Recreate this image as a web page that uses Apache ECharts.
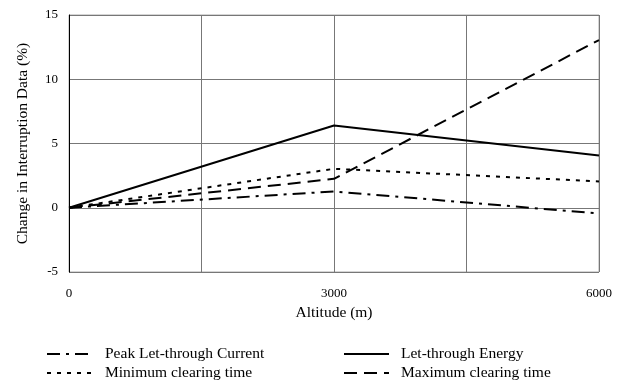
<!DOCTYPE html>
<html>
<head>
<meta charset="utf-8">
<script src="https://cdn.jsdelivr.net/npm/echarts@6/dist/echarts.min.js"></script>
<style>
  html, body { margin: 0; padding: 0; background: #fff; }
  #chart { width: 623px; height: 386px; }
</style>
</head>
<body>
<div id="chart"></div>
<script>
// 海拔 (m)
const altitudes = [0, 3000, 6000];
// 各项中断数据变化 (%)
const peakCurrent = [0, 1.27, -0.45];
const energy = [0, 6.4, 4.07];
const minClearing = [0, 3.03, 2.05];
const maxClearing = [0, 2.25, 13.05];

const FONT = '"Liberation Serif", "DejaVu Serif", serif';

const pairs = vals => altitudes.map((a, i) => [a, vals[i]]);

const lineSeries = (name, vals, dash) => ({
    name: name,
    type: 'line',
    data: pairs(vals),
    symbol: 'none',
    lineStyle: { color: '#000', width: 2, type: dash },
    itemStyle: { color: '#000' }
});

// 图例公共样式 (隐藏默认的圆点)
const legendBase = {
    orient: 'vertical',
    top: 346,
    padding: 0,
    itemWidth: 44,
    itemHeight: 14,
    itemGap: 3,
    itemStyle: { opacity: 0 },
    lineStyle: { width: 2 }
};

const chart = echarts.init(document.getElementById('chart'));

chart.setOption({
    animation: false,
    grid: { left: 69, right: 24, top: 15, bottom: 114, show: true, borderColor: '#aaa', borderWidth: 1 },
    xAxis: {
        type: 'value',
        min: 0,
        max: 6000,
        interval: 1500,
        name: 'Altitude (m)',
        nameLocation: 'middle',
        nameGap: 32,
        nameTextStyle: { fontFamily: FONT, fontSize: 15.5, color: '#000' },
        axisLine: { show: false },
        axisTick: { show: false },
        axisLabel: {
            fontFamily: FONT, fontSize: 13, color: '#000', margin: 15,
            formatter: v => (v % 3000 === 0 ? String(v) : '')
        },
        splitLine: { show: true, lineStyle: { color: '#777', width: 1 } }
    },
    yAxis: {
        type: 'value',
        min: -5,
        max: 15,
        interval: 5,
        name: 'Change in Interruption Data (%)',
        nameLocation: 'middle',
        nameGap: 38,
        nameTextStyle: { fontFamily: FONT, fontSize: 15.5, color: '#000' },
        axisLine: { show: true, onZero: false, lineStyle: { color: '#000', width: 1 } },
        axisTick: { show: false },
        axisLabel: { fontFamily: FONT, fontSize: 13, color: '#000', margin: 11 },
        splitLine: { show: true, lineStyle: { color: '#777', width: 1 } }
    },
    legend: [
        Object.assign({}, legendBase, {
            data: ['Peak Let-through Current', 'Minimum clearing time'],
            left: 46,
            textStyle: { fontFamily: FONT, fontSize: 15.5, color: '#000', padding: [0, 0, 0, 9] }
        }),
        Object.assign({}, legendBase, {
            data: ['Let-through Energy', 'Maximum clearing time'],
            left: 343,
            itemWidth: 45,
            textStyle: { fontFamily: FONT, fontSize: 15.5, color: '#000', padding: [0, 0, 0, 7] }
        })
    ],
    series: [
        lineSeries('Peak Let-through Current', peakCurrent, [13, 6, 3, 6]),
        lineSeries('Let-through Energy', energy, 'solid'),
        lineSeries('Minimum clearing time', minClearing, [4, 6]),
        lineSeries('Maximum clearing time', maxClearing, [13, 7])
    ]
});
</script>
</body>
</html>
